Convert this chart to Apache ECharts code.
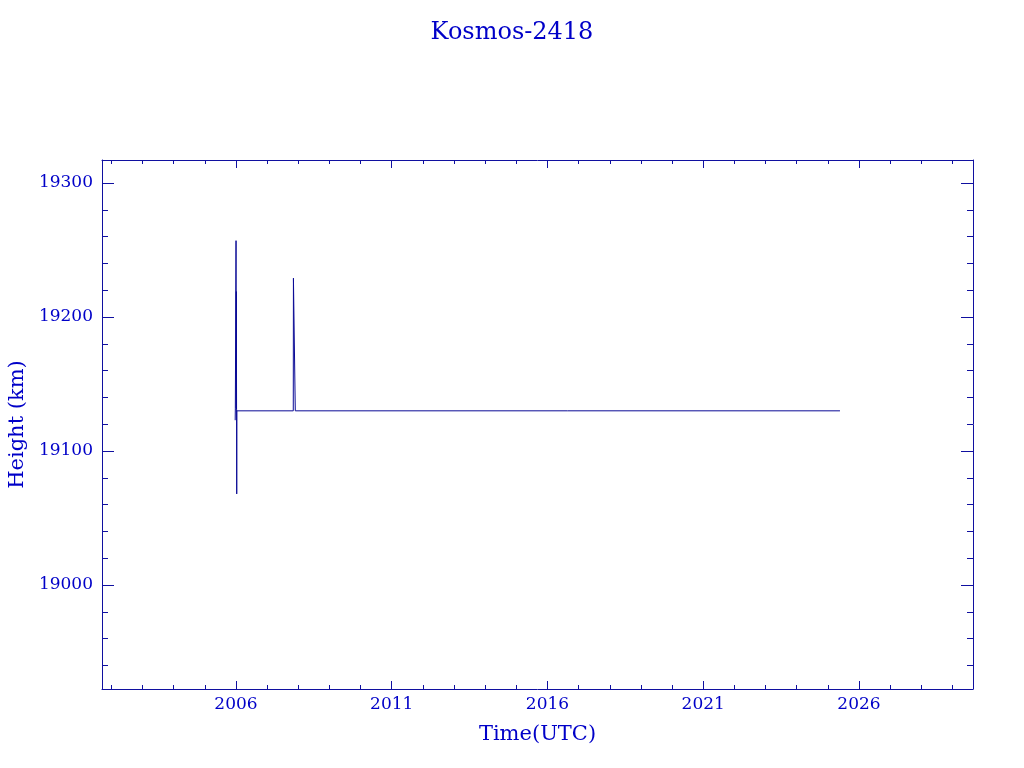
<!DOCTYPE html>
<html>
<head>
<meta charset="utf-8">
<script src="https://cdn.jsdelivr.net/npm/echarts@6/dist/echarts.min.js"></script>
<style>html,body{margin:0;padding:0;background:#fff;}#c{width:1024px;height:768px;}</style>
</head>
<body>
<div id="c"></div>
<script>
// Data (decimal years, height in km)
var titleText = 'Kosmos-2418';
var times   = [2005.975, 2005.98, 2006.0, 2006.003, 2006.01, 2006.013, 2006.02, 2006.025, 2006.03, 2007.84, 2007.845, 2007.90, 2007.905, 2025.39];
var heights = [19123,    19131.5, 19131.5, 19257,   19131,   19219,    19131,   19068,    19130,   19130,   19229,    19229,   19130,    19130];
var yearBase = 2001;           // axis counted in years since this base
var xMinYear = 2001.70, xMaxYear = 2029.66;
var yMin = 18922.4, yMax = 19317.2;

var txt = '#0000c8', axc = '#1010a0', lineC = '#0a0a96';
var fontF = '"DejaVu Serif", "Liberation Serif", serif';

var data = times.map(function (t, i) { return [t - yearBase, heights[i]]; });

var xCommon = {
  type: 'value', min: xMinYear - yearBase, max: xMaxYear - yearBase, splitNumber: 6,
  axisLine: { show: true, lineStyle: { color: axc, width: 1 } },
  axisTick: { show: true, inside: true, length: 8, lineStyle: { color: axc } },
  minorTick: { show: true, splitNumber: 5, length: 4, lineStyle: { color: axc } },
  splitLine: { show: false }
};
var yCommon = {
  type: 'value', min: yMin, max: yMax, splitNumber: 5,
  axisLine: { show: true, lineStyle: { color: axc, width: 1 } },
  axisTick: { show: true, inside: true, length: 12, lineStyle: { color: axc } },
  minorTick: { show: true, splitNumber: 5, length: 6, lineStyle: { color: axc } },
  splitLine: { show: false }
};

var chart = echarts.init(document.getElementById('c'));
chart.setOption({
  animation: false,
  backgroundColor: '#ffffff',
  title: {
    text: titleText, left: 'center', top: 16,
    textStyle: { color: txt, fontFamily: fontF, fontWeight: 'normal', fontSize: 24 }
  },
  grid: { left: 102, right: 51, top: 160, bottom: 79, containLabel: false, outerBoundsMode: 'none' },
  xAxis: [
    Object.assign({}, xCommon, {
      position: 'bottom',
      name: 'Time(UTC)', nameLocation: 'middle', nameGap: 35,
      nameTextStyle: { color: txt, fontFamily: fontF, fontSize: 21 },
      axisLabel: { show: true, color: txt, fontFamily: fontF, fontSize: 17, margin: 7,
        showMinLabel: false, showMaxLabel: false,
        formatter: function (v) { return String(Math.round(v + yearBase)); } }
    }),
    Object.assign({}, xCommon, { position: 'top', axisLabel: { show: false } })
  ],
  yAxis: [
    Object.assign({}, yCommon, {
      position: 'left',
      name: 'Height (km)', nameLocation: 'middle', nameGap: 72, nameRotate: 90,
      nameTextStyle: { color: txt, fontFamily: fontF, fontSize: 21 },
      axisLabel: { show: true, color: txt, fontFamily: fontF, fontSize: 17, margin: 9,
        showMinLabel: false, showMaxLabel: false,
        formatter: function (v) { return String(Math.round(v)); } }
    }),
    Object.assign({}, yCommon, { position: 'right', axisLabel: { show: false } })
  ],
  series: [{
    type: 'line', data: data, xAxisIndex: 0, yAxisIndex: 0,
    symbol: 'none', showSymbol: false,
    lineStyle: { color: lineC, width: 1 },
    silent: true
  }]
});
</script>
</body>
</html>
